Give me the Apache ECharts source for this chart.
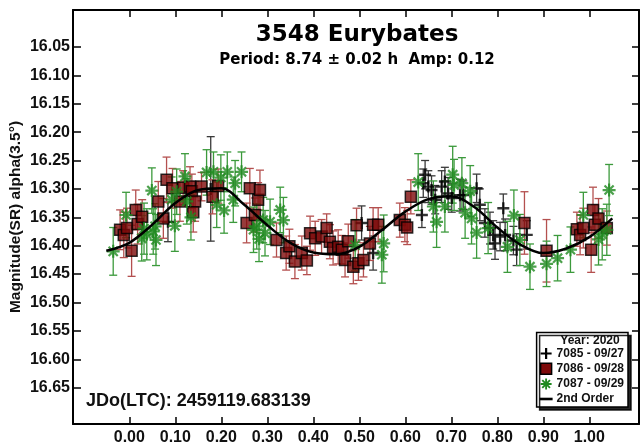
<!DOCTYPE html>
<html>
<head>
<meta charset="utf-8">
<script src="https://cdn.jsdelivr.net/npm/echarts@6/dist/echarts.min.js"></script>
<style>
  html, body { margin: 0; padding: 0; background: #ffffff; }
  #chart { width: 640px; height: 443px; }
</style>
</head>
<body>
<div id="chart"></div>
<script>
// 3548 Eurybates lightcurve, phased to P = 8.74 h.
// Each observation: [phase, reduced magnitude, 1-sigma error]

const session7085 = [
  [0.084, 16.358, 0.035], [0.177, 16.300, 0.092], [0.505, 16.360, 0.030], [0.530, 16.413, 0.030],
  [0.636, 16.346, 0.022], [0.639, 16.290, 0.025], [0.643, 16.275, 0.025], [0.650, 16.296, 0.028],
  [0.657, 16.302, 0.025], [0.665, 16.319, 0.025], [0.679, 16.296, 0.028], [0.686, 16.287, 0.025],
  [0.693, 16.308, 0.028], [0.701, 16.316, 0.025], [0.719, 16.311, 0.028], [0.726, 16.311, 0.025],
  [0.755, 16.299, 0.025], [0.762, 16.328, 0.028], [0.773, 16.360, 0.025], [0.784, 16.369, 0.028],
  [0.791, 16.381, 0.025], [0.795, 16.396, 0.028], [0.806, 16.384, 0.025], [0.813, 16.334, 0.025],
  [0.817, 16.381, 0.028], [0.835, 16.391, 0.025], [0.842, 16.407, 0.028], [0.864, 16.381, 0.025]
];

const session7086 = [
  [-0.020, 16.372, 0.035], [-0.012, 16.381, 0.040], [-0.005, 16.369, 0.035], [0.005, 16.409, 0.045],
  [0.014, 16.337, 0.035], [0.018, 16.362, 0.035], [0.028, 16.349, 0.030], [0.063, 16.322, 0.035],
  [0.074, 16.352, 0.035], [0.081, 16.284, 0.040], [0.094, 16.299, 0.035], [0.110, 16.322, 0.035],
  [0.117, 16.298, 0.030], [0.132, 16.296, 0.035], [0.136, 16.304, 0.030], [0.143, 16.322, 0.035],
  [0.139, 16.341, 0.035], [0.157, 16.296, 0.025], [0.181, 16.314, 0.030], [0.193, 16.295, 0.030],
  [0.255, 16.360, 0.035], [0.262, 16.299, 0.035], [0.280, 16.319, 0.030], [0.284, 16.302, 0.035],
  [0.273, 16.346, 0.030], [0.320, 16.390, 0.030], [0.341, 16.413, 0.030], [0.348, 16.401, 0.030],
  [0.360, 16.428, 0.030], [0.375, 16.413, 0.030], [0.386, 16.426, 0.025], [0.393, 16.378, 0.030],
  [0.404, 16.387, 0.030], [0.418, 16.384, 0.030], [0.429, 16.369, 0.025], [0.436, 16.393, 0.030],
  [0.443, 16.404, 0.030], [0.454, 16.402, 0.030], [0.462, 16.407, 0.025], [0.469, 16.425, 0.030],
  [0.476, 16.392, 0.030], [0.487, 16.437, 0.030], [0.494, 16.364, 0.030], [0.498, 16.431, 0.030],
  [0.509, 16.425, 0.030], [0.523, 16.396, 0.030], [0.530, 16.363, 0.030], [0.541, 16.363, 0.030],
  [0.588, 16.355, 0.030], [0.599, 16.363, 0.030], [0.604, 16.368, 0.030], [0.612, 16.314, 0.030],
  [0.859, 16.360, 0.055], [0.907, 16.409, 0.055], [0.973, 16.371, 0.030], [0.980, 16.381, 0.035],
  [0.987, 16.369, 0.035], [1.004, 16.407, 0.040], [1.008, 16.337, 0.040], [1.012, 16.363, 0.035],
  [1.020, 16.352, 0.035], [1.038, 16.369, 0.030]
];

const session7087 = [
  [-0.035, 16.410, 0.042], [-0.007, 16.346, 0.040], [0.027, 16.387, 0.040], [0.032, 16.370, 0.045],
  [0.038, 16.380, 0.045], [0.049, 16.303, 0.040], [0.052, 16.375, 0.040], [0.056, 16.366, 0.040],
  [0.058, 16.390, 0.045], [0.092, 16.319, 0.040], [0.099, 16.365, 0.045], [0.103, 16.305, 0.040],
  [0.121, 16.278, 0.040], [0.125, 16.322, 0.040], [0.134, 16.350, 0.040], [0.168, 16.271, 0.040],
  [0.183, 16.270, 0.035], [0.190, 16.328, 0.040], [0.199, 16.280, 0.040], [0.206, 16.338, 0.040],
  [0.213, 16.270, 0.035], [0.226, 16.319, 0.040], [0.230, 16.290, 0.040], [0.244, 16.270, 0.035],
  [0.270, 16.372, 0.040], [0.277, 16.366, 0.040], [0.282, 16.388, 0.040], [0.291, 16.355, 0.040],
  [0.295, 16.378, 0.040], [0.306, 16.358, 0.040], [0.328, 16.337, 0.040], [0.335, 16.355, 0.040],
  [0.491, 16.399, 0.045], [0.549, 16.416, 0.050], [0.553, 16.396, 0.050], [0.628, 16.288, 0.050],
  [0.661, 16.331, 0.045], [0.668, 16.358, 0.045], [0.686, 16.331, 0.045], [0.703, 16.275, 0.050],
  [0.706, 16.293, 0.045], [0.723, 16.290, 0.045], [0.741, 16.304, 0.045], [0.730, 16.342, 0.045],
  [0.744, 16.352, 0.045], [0.755, 16.377, 0.045], [0.780, 16.369, 0.045], [0.822, 16.402, 0.045],
  [0.836, 16.347, 0.045], [0.849, 16.390, 0.045], [0.871, 16.437, 0.040], [0.907, 16.432, 0.040],
  [0.931, 16.422, 0.040], [0.959, 16.407, 0.040], [0.987, 16.346, 0.040], [1.020, 16.389, 0.045],
  [1.028, 16.380, 0.045], [1.038, 16.372, 0.045], [1.043, 16.302, 0.045]
];

// 2nd-order Fourier fit, sampled along the phase
const fitPhase = [-0.05, 0.00, 0.05, 0.10, 0.15, 0.20, 0.25, 0.30, 0.35, 0.40, 0.45, 0.50,
                  0.55, 0.60, 0.65, 0.70, 0.75, 0.80, 0.85, 0.90, 0.95, 1.00, 1.05];
const fitMag = [16.409, 16.395, 16.363, 16.325, 16.302, 16.299, 16.328, 16.364, 16.395, 16.412,
                16.415, 16.402, 16.372, 16.340, 16.318, 16.313, 16.332, 16.368, 16.398, 16.413,
                16.405, 16.385, 16.352];

const xTicks = [0.0, 0.1, 0.2, 0.3, 0.4, 0.5, 0.6, 0.7, 0.8, 0.9, 1.0];
const yTicks = [16.05, 16.10, 16.15, 16.20, 16.25, 16.30, 16.35, 16.40, 16.45, 16.50, 16.55, 16.60, 16.65];

const sessionNames = ['7085 - 09/27', '7086 - 09/28', '7087 - 09/29'];
const fitName = '2nd Order';

const titleText = '3548 Eurybates';
const subtitleText = 'Period: 8.74 \u00b1 0.02 h  Amp: 0.12';
const epochText = 'JDo(LTC): 2459119.683139';
const yearText = 'Year: 2020';
const yAxisName = 'Magnitude(SR) alpha(3.5\u00b0)';

const FONT = '"Liberation Sans", Arial, sans-serif';
const WIDE = '"DejaVu Sans", Verdana, sans-serif';

const PLUS = 'path://M8 0H12V8H20V12H12V20H8V12H0V8H8Z';
const STAR = 'path://M0 8.3H20V11.7H0Z M8.3 0H11.7V20H8.3Z M1.8 4.2L4.2 1.8L18.2 15.8L15.8 18.2Z M15.8 1.8L18.2 4.2L4.2 18.2L1.8 15.8Z';
const SQUARE = 'path://M0 0H10V10H0Z';
const DASH = 'path://M0 0H10V2H0Z';

function errorBars(name, data, color) {
  return {
    type: 'custom',
    name: name,
    data: data,
    encode: { x: 0, y: 1 },
    z: 2,
    silent: true,
    renderItem: function (params, api) {
      const x = api.value(0), y = api.value(1), e = api.value(2);
      const top = api.coord([x, y - e]);
      const bot = api.coord([x, y + e]);
      const cap = 4;
      const style = { stroke: color, lineWidth: 1.3 };
      return {
        type: 'group',
        children: [
          { type: 'line', shape: { x1: top[0], y1: top[1], x2: bot[0], y2: bot[1] }, style: style },
          { type: 'line', shape: { x1: top[0] - cap, y1: top[1], x2: top[0] + cap, y2: top[1] }, style: style },
          { type: 'line', shape: { x1: bot[0] - cap, y1: bot[1], x2: bot[0] + cap, y2: bot[1] }, style: style }
        ]
      };
    }
  };
}

function points(name, data, symbol, size, itemStyle) {
  return {
    type: 'scatter',
    name: name,
    data: data.map(d => [d[0], d[1]]),
    symbol: symbol,
    symbolSize: size,
    itemStyle: itemStyle,
    z: 3,
    silent: true
  };
}

const chart = echarts.init(document.getElementById('chart'), null, { renderer: 'canvas' });

const axisLineStyle = { color: '#000', width: 2 };
const tickStyle = { color: '#000', width: 1.5 };

chart.setOption({
  animation: false,
  backgroundColor: '#ffffff',
  grid: { left: 73, right: 1, top: 10, bottom: 19, containLabel: false, outerBoundsMode: 'none' },
  xAxis: [{
    type: 'value',
    min: -0.1224, max: 1.108,
    position: 'bottom',
    axisLine: { show: true, onZero: false, lineStyle: axisLineStyle },
    axisTick: { show: true, inside: true, length: 7, lineStyle: tickStyle, customValues: xTicks },
    axisLabel: {
      show: true, margin: 6, customValues: xTicks,
      formatter: v => v.toFixed(2),
      fontFamily: FONT, fontWeight: 'bold', fontSize: 16, color: '#111'
    },
    splitLine: { show: false }
  }, {
    type: 'value',
    min: -0.1224, max: 1.108,
    position: 'top',
    axisLine: { show: true, onZero: false, lineStyle: axisLineStyle },
    axisTick: { show: true, inside: true, length: 7, lineStyle: tickStyle, customValues: xTicks },
    axisLabel: { show: false },
    splitLine: { show: false }
  }],
  yAxis: [{
    type: 'value',
    inverse: true,
    min: 15.985, max: 16.714,
    position: 'left',
    name: yAxisName,
    nameLocation: 'middle',
    nameGap: 49,
    nameMoveOverlap: false,
    nameRotate: 90,
    nameTextStyle: { fontFamily: FONT, fontWeight: 'bold', fontSize: 15.5, color: '#111' },
    axisLine: { show: true, onZero: false, lineStyle: axisLineStyle },
    axisTick: { show: true, inside: true, length: 8, lineStyle: tickStyle, customValues: yTicks },
    axisLabel: {
      show: true, margin: 3, customValues: yTicks,
      formatter: v => v.toFixed(2),
      fontFamily: FONT, fontWeight: 'bold', fontSize: 16, color: '#111'
    },
    splitLine: { show: false }
  }, {
    type: 'value',
    inverse: true,
    min: 15.985, max: 16.714,
    position: 'right',
    axisLine: { show: true, onZero: false, lineStyle: axisLineStyle },
    axisTick: { show: true, inside: true, length: 7, lineStyle: tickStyle, customValues: yTicks },
    axisLabel: { show: false },
    splitLine: { show: false }
  }],
  legend: {
    orient: 'vertical',
    right: 12,
    bottom: 36,
    padding: [15, 4, 2, 3],
    itemWidth: 13,
    itemHeight: 11,
    itemGap: 3,
    backgroundColor: '#ffffff',
    borderColor: '#000',
    borderWidth: 1.5,
    borderRadius: 0,
    shadowColor: 'rgba(0,0,0,0.85)',
    shadowBlur: 0,
    shadowOffsetX: 3,
    shadowOffsetY: 3,
    selectedMode: false,
    textStyle: { fontFamily: FONT, fontWeight: 'bold', fontSize: 12, color: '#111', padding: [0, 0, 0, -1] },
    data: [
      { name: sessionNames[0], icon: PLUS, itemStyle: { color: '#000', borderWidth: 0 } },
      { name: sessionNames[1], icon: SQUARE, itemStyle: { color: '#7d0a0a', borderColor: '#000', borderWidth: 1.5 } },
      { name: sessionNames[2], icon: STAR, itemStyle: { color: '#1f8a1f', borderWidth: 0 } },
      { name: fitName, icon: DASH, itemStyle: { color: '#000', borderWidth: 0 } }
    ]
  },
  graphic: [
    {
      type: 'text', z: 10, silent: true,
      style: { text: titleText, x: 357, y: 35, align: 'center', verticalAlign: 'middle',
               font: 'bold 23px ' + WIDE, fill: '#000' }
    },
    {
      type: 'text', z: 10, silent: true,
      style: { text: subtitleText, x: 357, y: 60, align: 'center', verticalAlign: 'middle',
               font: 'bold 15px ' + WIDE, fill: '#000' }
    },
    {
      type: 'text', z: 10, silent: true,
      style: { text: epochText, x: 86, y: 401.5, align: 'left', verticalAlign: 'middle',
               font: 'bold 18px ' + FONT, fill: '#111' }
    },
    {
      type: 'text', z: 10, silent: true,
      style: { text: yearText, x: 590, y: 341, align: 'center', verticalAlign: 'middle',
               font: 'bold 12px ' + FONT, fill: '#111' }
    }
  ],
  series: [
    errorBars(sessionNames[0], session7085, '#3a3a3a'),
    points(sessionNames[0], session7085, PLUS, 12, { color: '#000' }),
    errorBars(sessionNames[1], session7086, '#b4504f'),
    points(sessionNames[1], session7086, SQUARE, 11, { color: '#7d0a0a', borderColor: '#000', borderWidth: 1.5 }),
    errorBars(sessionNames[2], session7087, '#3c9a3c'),
    points(sessionNames[2], session7087, STAR, 13, { color: '#1f8a1f' }),
    {
      type: 'line',
      name: fitName,
      data: fitPhase.map((p, i) => [p, fitMag[i]]),
      smooth: 0.35,
      showSymbol: false,
      symbol: 'none',
      z: 4,
      silent: true,
      lineStyle: { color: '#000', width: 2.5 }
    }
  ]
});
</script>
</body>
</html>
